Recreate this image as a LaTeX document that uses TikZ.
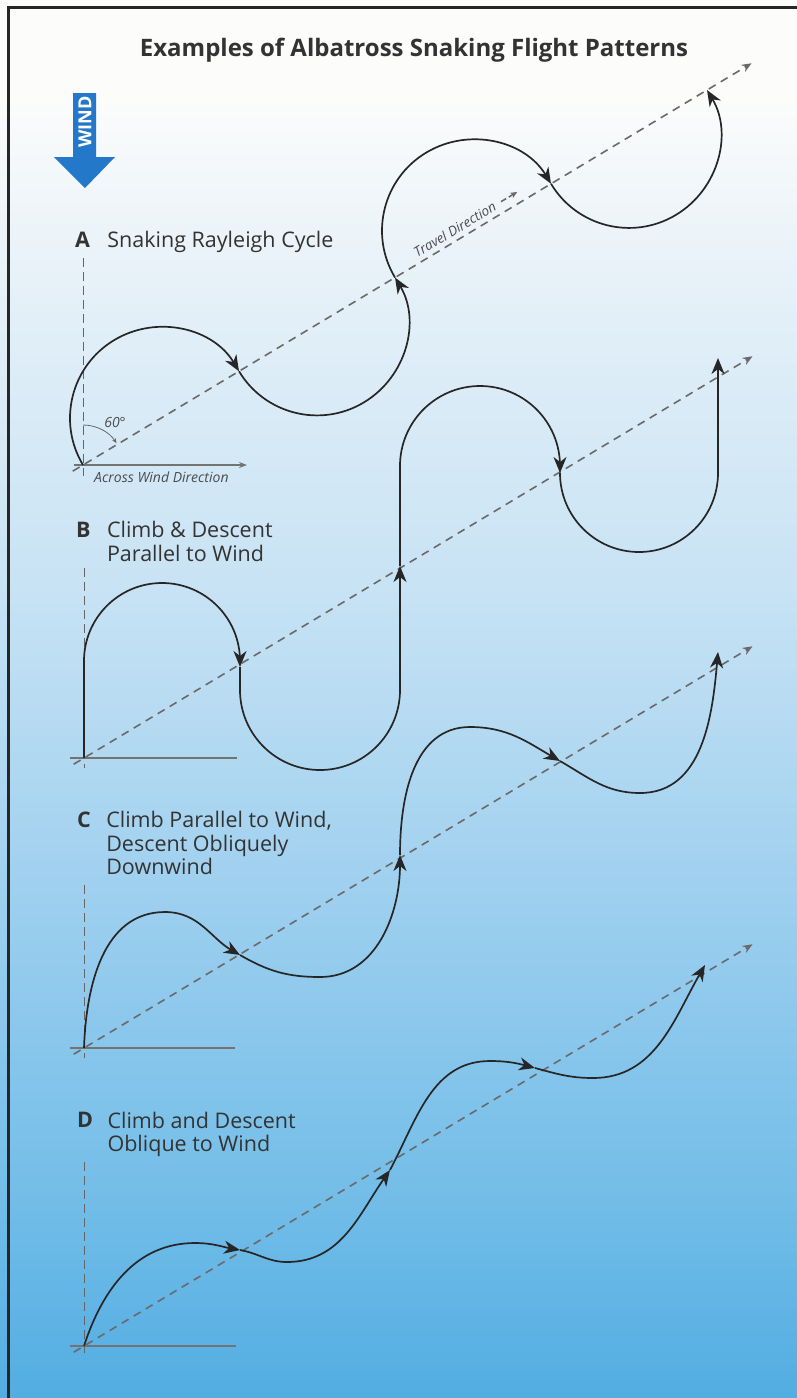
\documentclass[tikz,border=0pt]{standalone}
\usepackage{fontspec}
\setmainfont{Open Sans}
\usetikzlibrary{arrows.meta,positioning}
\definecolor{windblue}{HTML}{2378C9}
\definecolor{skytop}{HTML}{FCFCFB}
\definecolor{skyA}{HTML}{E4F0F8}
\definecolor{skyB}{HTML}{C6E2F4}
\definecolor{skyC}{HTML}{9DCFEF}
\definecolor{skyD}{HTML}{72BDE8}
\definecolor{skybottom}{HTML}{52ADE2}
\definecolor{inkgray}{HTML}{6A6A6A}

\begin{document}
\begin{tikzpicture}[x=1pt, y=1pt,
    flight/.style={line width=1.7pt, black!85},
    flightarrow/.style={flight, -{Stealth[length=16pt, width=13pt, inset=5pt]}},
    travel/.style={line width=1.6pt, inkgray, dash pattern=on 8pt off 6pt},
    travelarrow/.style={travel, -{Stealth[length=10pt, width=8pt]}},
    windaxis/.style={line width=1pt, black!60, dash pattern=on 9pt off 5pt},
    crossaxis/.style={line width=1.5pt, black!55},
    paneltag/.style={font=\fontsize{21.5}{24}\selectfont\bfseries, text=black!80, anchor=base west, inner sep=0pt},
    paneltext/.style={font=\fontsize{21.5}{23.5}\selectfont, text=black!80, anchor=north west, align=left, inner sep=0pt},
    smalllabel/.style={font=\fontsize{14}{16}\selectfont\itshape, text=black!70, inner sep=1pt}]

  % sky
  \useasboundingbox (0,0) rectangle (797,-1398);
  \fill[skytop] (0,0) rectangle (797,-96);
  \shade[top color=skytop, bottom color=skyA] (0,-95) rectangle (797,-301);
  \shade[top color=skyA, bottom color=skyB] (0,-300) rectangle (797,-601);
  \shade[top color=skyB, bottom color=skyC] (0,-600) rectangle (797,-901);
  \shade[top color=skyC, bottom color=skyD] (0,-900) rectangle (797,-1201);
  \shade[top color=skyD, bottom color=skybottom] (0,-1200) rectangle (797,-1398);
  \draw[line width=3pt, black!85] (8,-1398) -- (8,-7) -- (797,-7);

  \node (title) [font=\fontsize{24}{28}\selectfont\bfseries, text=black!80] at (414,-50) {Examples of Albatross Snaking Flight Patterns};

  % wind
  \fill[windblue] (73,-93) -- (96,-93) -- (96,-157) -- (115,-157) -- (85,-188) -- (54,-157) -- (73,-157) -- cycle;
  \node (wind) [rotate=90, text=white, font=\fontsize{18}{18}\selectfont\bfseries, inner sep=0pt] at (85,-122) {WIND};

  % A
  \coordinate (oA) at (83,-465);
  \coordinate (a1) at ([shift={(31:182)}]oA);
  \coordinate (a2) at ([shift={(31:364)}]oA);
  \coordinate (a3) at ([shift={(31:546)}]oA);
  \node (tagA) [paneltag] at (75,-247) {A};
  \node (textA) [paneltext, right=17pt of tagA.north east, anchor=north west] {Snaking Rayleigh Cycle};
  \draw[windaxis] (83,-258) -- (83,-476);
  \draw[crossaxis, -{Stealth[length=8pt, width=6pt]}] (74,-465) -- (247,-465);
  \node (acrossA) [smalllabel, anchor=north west] at (93,-471) {Across Wind Direction};
  \draw[travelarrow] ([shift={(211:12)}]oA) -- ([shift={(31:780)}]oA);
  \draw[black!60, line width=0.8pt, -{Stealth[length=5pt, width=4pt]}] ([shift={(90:40)}]oA) arc[start angle=90, end angle=33, radius=40];
  \node (angleA) [smalllabel] at (115,-422) {60°};
  \node (travA) [smalllabel, font=\fontsize{13.5}{15}\selectfont\itshape, rotate=31, anchor=south, inner sep=5pt] at ([shift={(31:440)}]oA) {Travel Direction};
  \draw[travel, dash pattern=on 6pt off 3pt, -{Stealth[length=7pt, width=6pt]}] ([shift={(31:2)}]travA.east) -- ([shift={(31:21)}]travA.east);
  \draw[flightarrow] (oA) arc[start angle=211, end angle=31, radius=91];
  \draw[flightarrow] (a1) arc[start angle=211, end angle=391, radius=91];
  \draw[flightarrow] (a2) arc[start angle=211, end angle=31, radius=91];
  \draw[flightarrow] (a3) arc[start angle=211, end angle=391, radius=91];

  % B
  \coordinate (oB) at (84,-758);
  \coordinate (b1) at (240,-667);
  \coordinate (b2) at (400,-566);
  \coordinate (b3) at (560,-473);
  \coordinate (b4) at (718,-358);
  \node (tagB) [paneltag] at (76,-537) {B};
  \node (textB) [paneltext, right=16pt of tagB.north east, anchor=north west] {Climb \& Descent\\Parallel to Wind};
  \draw[windaxis] (84,-568) -- (84,-768);
  \draw[crossaxis] (70,-758) -- (237,-758);
  \draw[travelarrow] ([shift={(211:12)}]oB) -- ([shift={(31:780)}]oB);
  \draw[flightarrow] (oB) -- (84,-661) arc[start angle=180, end angle=0, radius=78] -- (b1);
  \draw[flightarrow] (b1) -- (240,-690) arc[start angle=180, end angle=360, radius=80] -- (b2);
  \draw[flightarrow] (b2) -- (400,-466) arc[start angle=180, end angle=0, radius=80] -- (b3);
  \draw[flightarrow] (b3) arc[start angle=180, end angle=360, radius=79] -- (b4);

  % C
  \coordinate (oC) at (84,-1048);
  \coordinate (c1) at (240,-955);
  \coordinate (c2) at (400,-855);
  \coordinate (c3) at (560,-761);
  \coordinate (c4) at (718,-652);
  \node (tagC) [paneltag] at (77,-827) {C};
  \node (textC) [paneltext, right=15pt of tagC.north east, anchor=north west] {Climb Parallel to Wind,\\Descent Obliquely\\Downwind};
  \draw[windaxis] (84,-885) -- (84,-1058);
  \draw[crossaxis] (70,-1048) -- (235,-1048);
  \draw[travelarrow] ([shift={(211:12)}]oC) -- ([shift={(31:780)}]oC);
  \draw[flightarrow] (oC) to[out=88, in=180] (165,-912) to[out=0, in=150] (c1);
  \draw[flightarrow] (c1) to[out=-30, in=180] (320,-977) to[out=0, in=-90] (c2);
  \draw[flightarrow] (c2) to[out=90, in=180] (470,-727) to[out=0, in=150] (c3);
  \draw[flightarrow] (c3) to[out=-30, in=180] (640,-793) to[out=0, in=-95] (c4);

  % D
  \coordinate (oD) at (84,-1346);
  \coordinate (d1) at (240,-1250);
  \coordinate (d2) at (390,-1170);
  \coordinate (d3) at (535,-1068);
  \coordinate (d4) at (705,-965);
  \node (tagD) [paneltag] at (77,-1127) {D};
  \node (textD) [paneltext, right=14pt of tagD.north east, anchor=north west] {Climb and Descent\\Oblique to Wind};
  \draw[windaxis] (84,-1162) -- (84,-1358);
  \draw[crossaxis] (70,-1346) -- (236,-1346);
  \draw[travelarrow] ([shift={(211:12)}]oD) -- ([shift={(31:780)}]oD);
  \draw[flightarrow] (oD) to[out=72, in=180] (195,-1243) to[out=0, in=170] (d1);
  \draw[flightarrow] (d1) to[out=-10, in=180] (287,-1262) to[out=0, in=235] (d2);
  \draw[flightarrow] (d2) to[out=62, in=180] (490,-1061) to[out=0, in=165] (d3);
  \draw[flightarrow] (d3) to[out=-15, in=180] (593,-1078) to[out=0, in=240] (d4);
\end{tikzpicture}
\end{document}
